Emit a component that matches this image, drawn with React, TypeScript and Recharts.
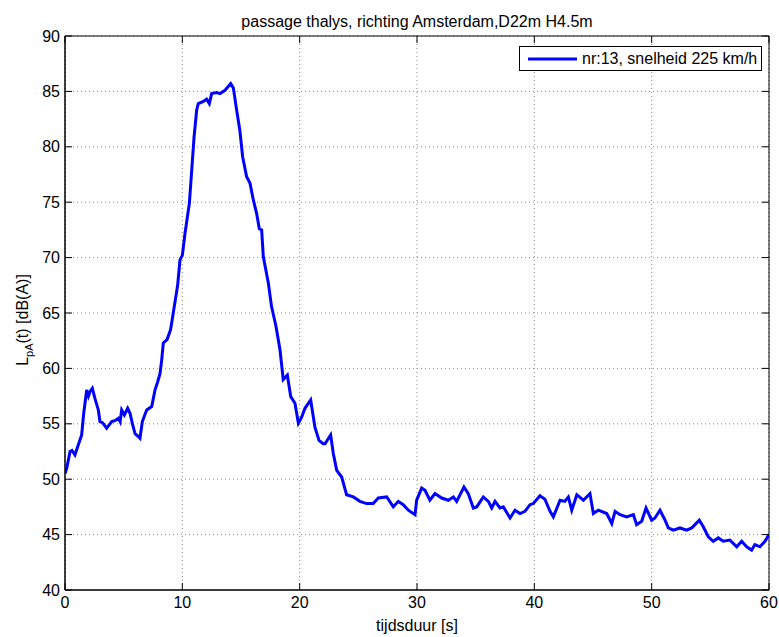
import React from "react";
import {
  LineChart,
  Line,
  XAxis,
  YAxis,
  CartesianGrid,
  ReferenceArea,
  Legend,
} from "recharts";

const times: number[] = [
  0.0, 0.15, 0.43, 0.6, 0.85, 1.1, 1.42, 1.6, 1.85, 2.0, 2.13, 2.33, 2.55, 2.84, 2.98, 3.2, 3.55, 3.98, 4.3, 4.55,
  4.7, 4.83, 5.06, 5.34, 5.54, 5.75, 5.97, 6.2, 6.39, 6.59, 6.96, 7.39, 7.67, 7.9, 8.1, 8.24, 8.38, 8.7, 9.0, 9.3,
  9.6, 9.8, 10.0, 10.23, 10.6, 10.8, 11.0, 11.22, 11.36, 11.79, 12.07, 12.3, 12.5, 12.93, 13.2, 13.64, 14.12, 14.35, 14.63, 14.9,
  15.14, 15.48, 15.77, 16.05, 16.33, 16.56, 16.76, 16.9, 17.33, 17.6, 17.98, 18.32, 18.6, 18.95, 19.24, 19.6, 19.89, 20.17, 20.45, 20.94,
  21.3, 21.65, 22.0, 22.16, 22.64, 22.87, 23.16, 23.58, 24.0, 24.57, 25.14, 25.7, 26.27, 26.7, 27.42, 27.98, 28.4, 28.83, 29.26, 29.83,
  29.97, 30.4, 30.68, 31.1, 31.53, 32.1, 32.67, 33.1, 33.38, 34.0, 34.37, 34.8, 35.09, 35.65, 36.08, 36.37, 36.65, 37.07, 37.36, 37.93,
  38.35, 38.78, 39.2, 39.63, 39.91, 40.48, 40.9, 41.34, 41.62, 42.19, 42.6, 42.9, 43.19, 43.62, 44.18, 44.74, 45.03, 45.45, 46.17, 46.6,
  46.88, 47.3, 47.87, 48.44, 48.72, 49.15, 49.52, 50.0, 50.28, 50.71, 51.14, 51.42, 51.84, 52.41, 52.99, 53.41, 53.69, 54.06, 54.4, 54.83,
  55.25, 55.68, 56.1, 56.67, 57.25, 57.67, 58.1, 58.52, 58.8, 59.23, 59.66, 60.0,
];

const levels: number[] = [
  50.5, 51.0, 52.5, 52.6, 52.2, 53.0, 54.0, 56.0, 58.05, 57.5, 57.9, 58.2, 57.3, 56.25, 55.2, 55.1, 54.6, 55.2, 55.3, 55.5,
  55.2, 56.25, 55.8, 56.4, 55.95, 55.0, 54.1, 53.9, 53.7, 55.2, 56.25, 56.55, 58.05, 58.8, 59.55, 60.75, 62.3, 62.6, 63.5, 65.5,
  67.5, 69.8, 70.2, 72.2, 74.9, 77.9, 80.9, 83.3, 83.9, 84.1, 84.3, 83.9, 84.8, 84.9, 84.8, 85.1, 85.7, 85.3, 83.3, 81.5,
  79.1, 77.3, 76.7, 75.2, 74.0, 72.6, 72.5, 70.1, 67.7, 65.6, 63.8, 61.7, 59.0, 59.4, 57.45, 56.85, 55.05, 55.6, 56.4, 57.15,
  54.7, 53.5, 53.2, 53.2, 54.0, 52.3, 50.8, 50.2, 48.6, 48.4, 48.0, 47.8, 47.8, 48.3, 48.4, 47.5, 48.0, 47.7, 47.2, 46.8,
  48.1, 49.2, 49.0, 48.1, 48.7, 48.3, 48.1, 48.4, 48.0, 49.3, 48.7, 47.4, 47.5, 48.4, 48.0, 47.4, 48.0, 47.4, 47.5, 46.5,
  47.2, 46.9, 47.1, 47.7, 47.8, 48.5, 48.2, 47.1, 46.6, 48.1, 48.0, 48.4, 47.2, 48.6, 48.1, 48.7, 46.9, 47.2, 46.9, 46.0,
  47.1, 46.8, 46.6, 46.8, 45.9, 46.2, 47.4, 46.3, 46.5, 47.2, 46.3, 45.6, 45.4, 45.6, 45.4, 45.6, 45.9, 46.3, 45.7, 44.8,
  44.4, 44.7, 44.4, 44.5, 43.9, 44.4, 43.9, 43.6, 44.1, 43.9, 44.4, 45.0,
];

const xTicks: number[] = [0, 10, 20, 30, 40, 50, 60];
const yTicks: number[] = [40, 45, 50, 55, 60, 65, 70, 75, 80, 85, 90];

const titleText = "passage thalys, richting Amsterdam,D22m H4.5m";
const xLabelText = "tijdsduur [s]";
const seriesName = "nr:13, snelheid 225 km/h";

const data = times.map((t, i) => ({ t, v: levels[i] }));

const W = 779;
const H = 637;
const M = { top: 36, right: 10, bottom: 17, left: 20 };
const Y_AXIS_W = 45;
const X_AXIS_H = 30;
const PLOT_W = W - M.left - M.right - Y_AXIS_W;
const PLOT_H = H - M.top - M.bottom - X_AXIS_H;
const FONT = "'Liberation Sans', Arial, Helvetica, sans-serif";
const X_TICK_MARGIN = 7;
const Y_TICK_MARGIN = 5;
const TICK_LEN = 7;

const XTick = (props: any) => {
  const { x, y, payload } = props;
  const axisY = y - X_TICK_MARGIN;
  return (
    <g>
      <line x1={x} x2={x} y1={axisY} y2={axisY - TICK_LEN} stroke="#000" />
      <line x1={x} x2={x} y1={axisY - PLOT_H} y2={axisY - PLOT_H + TICK_LEN} stroke="#000" />
      <text x={x} y={y} dy="0.71em" textAnchor="middle" fontSize={16} fontFamily={FONT} fill="#000">
        {payload.value}
      </text>
    </g>
  );
};

const YTick = (props: any) => {
  const { x, y, payload } = props;
  const axisX = x + Y_TICK_MARGIN;
  return (
    <g>
      <line x1={axisX} x2={axisX + TICK_LEN} y1={y} y2={y} stroke="#000" />
      <line x1={axisX + PLOT_W} x2={axisX + PLOT_W - TICK_LEN} y1={y} y2={y} stroke="#000" />
      <text x={x} y={y} dy="0.355em" textAnchor="end" fontSize={16} fontFamily={FONT} fill="#000">
        {payload.value}
      </text>
    </g>
  );
};

const YLabel = () => {
  const cx = 28;
  const cy = 320;
  return (
    <text
      x={cx}
      y={cy}
      transform={`rotate(-90, ${cx}, ${cy})`}
      textAnchor="middle"
      fontSize={16}
      fontFamily={FONT}
      fill="#000"
    >
      L
      <tspan fontSize={11} dy={5}>
        pA
      </tspan>
      <tspan dy={-5}>(t) [dB(A)]</tspan>
    </text>
  );
};

const LegendBox = () => (
  <div
    style={{
      border: "1px solid #000",
      background: "#fff",
      width: 243,
      height: 25,
      boxSizing: "border-box",
      display: "flex",
      alignItems: "center",
      fontFamily: FONT,
      fontSize: 16,
      color: "#000",
      whiteSpace: "nowrap",
    }}
  >
    <svg width={62} height={10} style={{ display: "block" }}>
      <line x1={8} x2={57} y1={5} y2={5} stroke="#0000ff" strokeWidth={3} />
    </svg>
    <span>{seriesName}</span>
  </div>
);

export default function App() {
  return (
    <div style={{ position: "absolute", left: 0, top: 0, width: W, height: H, background: "#fff" }}>
      <div
        style={{
          position: "absolute",
          left: M.left + Y_AXIS_W,
          width: PLOT_W,
          top: 13,
          textAlign: "center",
          fontFamily: FONT,
          fontSize: 16,
          color: "#000",
          lineHeight: "18px",
          whiteSpace: "nowrap",
        }}
      >
        {titleText}
      </div>
      <div
        style={{
          position: "absolute",
          left: M.left + Y_AXIS_W,
          width: PLOT_W,
          top: 617,
          textAlign: "center",
          fontFamily: FONT,
          fontSize: 16,
          color: "#000",
          lineHeight: "18px",
          whiteSpace: "nowrap",
        }}
      >
        {xLabelText}
      </div>
      <LineChart width={W} height={H} data={data} margin={M}>
        <CartesianGrid stroke="#888" strokeDasharray="1 3" />
        <XAxis
          dataKey="t"
          type="number"
          domain={[0, 60]}
          ticks={xTicks}
          allowDataOverflow
          height={X_AXIS_H}
          tickSize={0}
          tickMargin={X_TICK_MARGIN}
          tickLine={false}
          axisLine={{ stroke: "#000" }}
          tick={<XTick />}
          interval={0}
        />
        <YAxis
          type="number"
          domain={[40, 90]}
          ticks={yTicks}
          allowDataOverflow
          width={Y_AXIS_W}
          tickSize={0}
          tickMargin={Y_TICK_MARGIN}
          tickLine={false}
          axisLine={{ stroke: "#000" }}
          tick={<YTick />}
          interval={0}
          label={{ content: <YLabel /> }}
        />
        <ReferenceArea x1={0} x2={60} y1={40} y2={90} fill="none" stroke="#000" strokeWidth={1} />
        <Line
          type="linear"
          dataKey="v"
          name={seriesName}
          stroke="#0000ff"
          strokeWidth={3}
          dot={false}
          isAnimationActive={false}
        />
        <Legend
          layout="vertical"
          align="center"
          verticalAlign="middle"
          content={<LegendBox />}
          wrapperStyle={{ position: "absolute", left: 519, top: 46, width: 243, height: 25 }}
        />
      </LineChart>
    </div>
  );
}
